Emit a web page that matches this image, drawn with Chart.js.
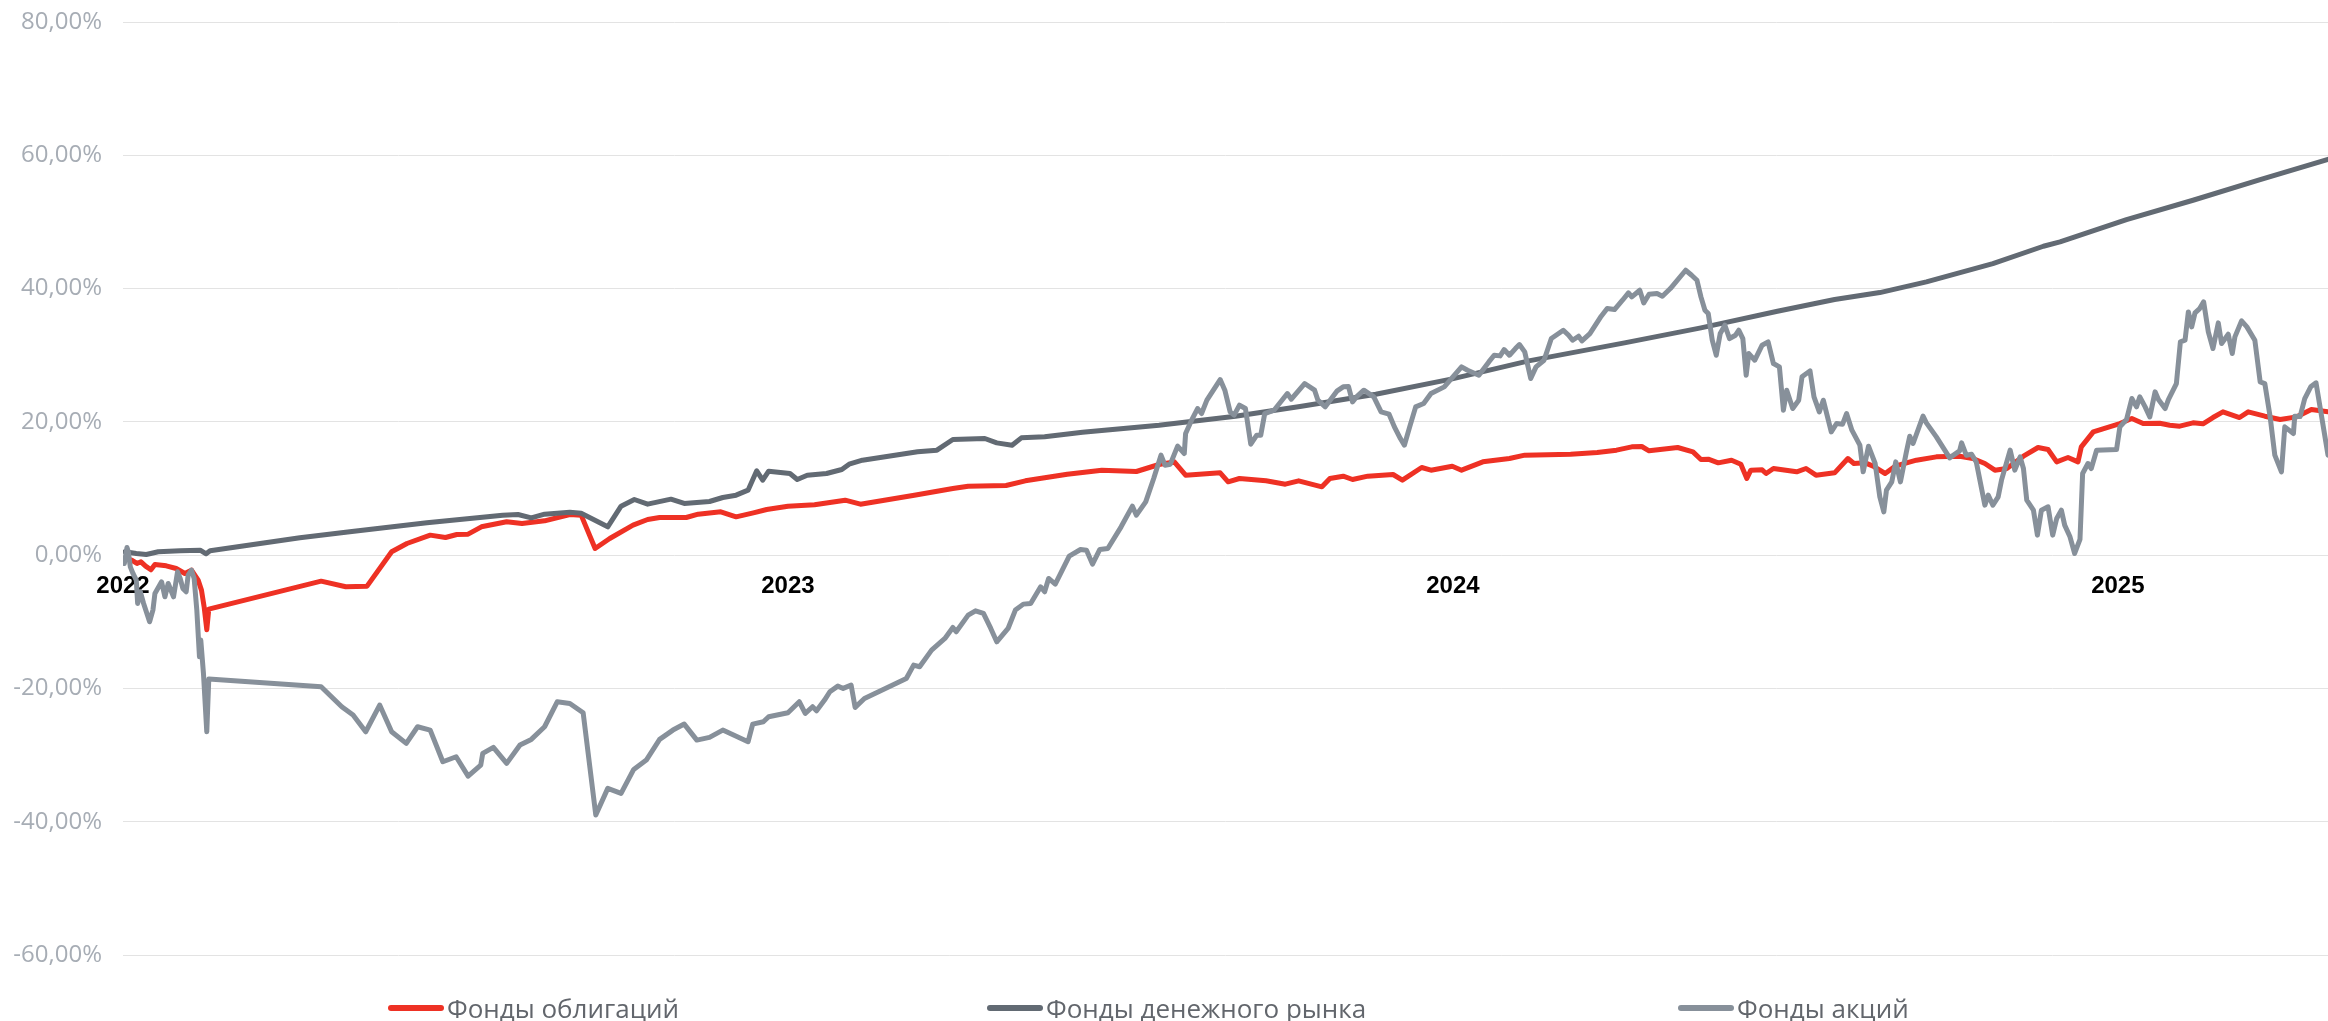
<!DOCTYPE html>
<html>
<head>
<meta charset="utf-8">
<script src="https://cdn.jsdelivr.net/npm/chart.js@4.4.1/dist/chart.umd.min.js"></script>
<style>
  html, body { margin: 0; padding: 0; background: #ffffff; }
  #wrap { position: relative; width: 2328px; height: 1021px; overflow: hidden; }
  #c { position: absolute; left: 0; top: 0; }
  .lg-item { position: absolute; top: 989px; height: 38px; display: flex; align-items: center; white-space: nowrap; }
  .lg-mark { width: 56px; height: 6px; border-radius: 3px; margin-right: 3px; }
  .lg-text { font-family: "Open Sans", sans-serif; font-size: 26px; color: #62666c; line-height: 38px; }
</style>
</head>
<body>
<div id="wrap">
  <canvas id="c" width="2328" height="1021"></canvas>
</div>
<script>
// ---- data (decimal years, percent) ----
const seriesNames = ['Фонды облигаций', 'Фонды денежного рынка', 'Фонды акций'];
const yearTicks = [2022, 2023, 2024, 2025];
const yTicks = [-60, -40, -20, 0, 20, 40, 60, 80];
const xStart = 2022;
const xEnd = 2025.316;

const bondT = [2022.004,2022.013,2022.021,2022.027,2022.034,2022.042,2022.048,2022.065,2022.080,2022.093,2022.103,2022.113,2022.118,2022.122,2022.126,2022.129,2022.298,2022.335,2022.367,2022.404,2022.427,2022.462,2022.485,2022.502,2022.519,2022.539,2022.577,2022.600,2022.634,2022.672,2022.689,2022.710,2022.732,2022.767,2022.789,2022.807,2022.847,2022.865,2022.899,2022.922,2022.948,2022.968,2023.000,2023.040,2023.086,2023.109,2023.190,2023.248,2023.271,2023.328,2023.357,2023.420,2023.472,2023.524,2023.558,2023.581,2023.598,2023.650,2023.662,2023.679,2023.719,2023.748,2023.768,2023.803,2023.815,2023.835,2023.849,2023.872,2023.910,2023.924,2023.953,2023.967,2023.999,2024.013,2024.045,2024.085,2024.108,2024.177,2024.217,2024.246,2024.269,2024.284,2024.295,2024.338,2024.361,2024.373,2024.384,2024.399,2024.419,2024.433,2024.442,2024.448,2024.465,2024.471,2024.482,2024.517,2024.531,2024.546,2024.574,2024.594,2024.603,2024.620,2024.632,2024.650,2024.665,2024.697,2024.727,2024.762,2024.782,2024.800,2024.815,2024.833,2024.858,2024.880,2024.895,2024.908,2024.925,2024.940,2024.945,2024.963,2025.003,2025.021,2025.038,2025.063,2025.078,2025.093,2025.113,2025.128,2025.143,2025.158,2025.183,2025.196,2025.221,2025.244,2025.269,2025.291,2025.316];
const bondV = [-0.5,-0.75,-1.25,-1.0,-1.65,-2.2,-1.4,-1.6,-2.0,-2.75,-2.25,-3.75,-5.25,-7.75,-11.2,-8.1,-3.9,-4.75,-4.65,0.5,1.75,3.0,2.65,3.1,3.15,4.25,5.0,4.75,5.15,6.1,6.0,1.0,2.5,4.5,5.35,5.65,5.65,6.15,6.5,5.75,6.35,6.85,7.35,7.55,8.25,7.65,9.0,10.0,10.35,10.45,11.15,12.15,12.75,12.55,13.6,14.0,12.0,12.35,11.0,11.5,11.15,10.65,11.15,10.25,11.5,11.85,11.35,11.85,12.1,11.25,13.15,12.75,13.35,12.75,14.0,14.5,15.0,15.15,15.4,15.75,16.25,16.3,15.65,16.15,15.5,14.35,14.4,13.85,14.25,13.65,11.5,12.75,12.8,12.25,13.0,12.5,13.0,12.0,12.35,14.5,13.75,13.85,13.35,12.25,13.35,14.25,14.75,14.85,14.5,13.75,12.75,13.0,14.85,16.15,15.85,14.0,14.65,14.0,16.25,18.5,19.75,20.5,19.75,19.8,19.5,19.35,19.85,19.7,20.65,21.5,20.65,21.5,20.85,20.35,20.75,21.85,21.5];

const moneyT = [2022.003,2022.020,2022.035,2022.053,2022.086,2022.116,2022.125,2022.131,2022.266,2022.341,2022.457,2022.571,2022.594,2022.614,2022.634,2022.672,2022.689,2022.729,2022.749,2022.769,2022.789,2022.824,2022.844,2022.882,2022.902,2022.922,2022.940,2022.953,2022.962,2022.971,2023.003,2023.014,2023.029,2023.058,2023.081,2023.092,2023.112,2023.195,2023.224,2023.248,2023.296,2023.314,2023.337,2023.351,2023.386,2023.443,2023.558,2023.673,2023.770,2023.884,2023.999,2024.114,2024.258,2024.373,2024.488,2024.574,2024.642,2024.712,2024.812,2024.888,2024.913,2025.013,2025.113,2025.214,2025.316];
const moneyV = [0.5,0.25,0.1,0.5,0.65,0.75,0.2,0.65,2.6,3.5,4.85,6.0,6.1,5.6,6.15,6.45,6.3,4.25,7.35,8.35,7.65,8.4,7.75,8.05,8.65,9.0,9.75,12.65,11.25,12.6,12.25,11.35,12.0,12.25,12.85,13.65,14.25,15.5,15.75,17.35,17.5,16.85,16.5,17.6,17.75,18.45,19.5,20.85,22.3,24.15,26.45,29.15,31.85,34.1,36.6,38.35,39.4,41.0,43.75,46.35,47.0,50.35,53.25,56.35,59.4];

const equityT = [2022.002,2022.006,2022.008,2022.011,2022.015,2022.020,2022.022,2022.026,2022.031,2022.040,2022.045,2022.048,2022.058,2022.063,2022.068,2022.076,2022.082,2022.086,2022.090,2022.095,2022.098,2022.103,2022.107,2022.111,2022.115,2022.117,2022.121,2022.126,2022.129,2022.298,2022.329,2022.346,2022.365,2022.386,2022.404,2022.426,2022.443,2022.462,2022.481,2022.501,2022.519,2022.538,2022.541,2022.557,2022.577,2022.597,2022.614,2022.634,2022.653,2022.672,2022.692,2022.711,2022.729,2022.749,2022.768,2022.787,2022.807,2022.827,2022.844,2022.863,2022.882,2022.902,2022.940,2022.947,2022.963,2022.971,2023.000,2023.017,2023.026,2023.037,2023.043,2023.055,2023.063,2023.075,2023.083,2023.095,2023.101,2023.115,2023.178,2023.189,2023.198,2023.216,2023.236,2023.248,2023.253,2023.271,2023.282,2023.294,2023.305,2023.314,2023.331,2023.342,2023.354,2023.365,2023.380,2023.386,2023.392,2023.402,2023.423,2023.440,2023.449,2023.458,2023.469,2023.481,2023.501,2023.518,2023.524,2023.538,2023.550,2023.561,2023.567,2023.575,2023.586,2023.596,2023.598,2023.607,2023.616,2023.622,2023.630,2023.650,2023.657,2023.665,2023.671,2023.679,2023.688,2023.696,2023.705,2023.711,2023.717,2023.731,2023.751,2023.757,2023.777,2023.792,2023.797,2023.808,2023.826,2023.835,2023.843,2023.849,2023.855,2023.866,2023.881,2023.892,2023.904,2023.912,2023.921,2023.927,2023.935,2023.944,2023.956,2023.967,2023.987,2024.013,2024.022,2024.039,2024.054,2024.062,2024.071,2024.077,2024.085,2024.094,2024.100,2024.108,2024.117,2024.125,2024.137,2024.148,2024.166,2024.174,2024.180,2024.189,2024.194,2024.206,2024.223,2024.232,2024.243,2024.255,2024.264,2024.269,2024.281,2024.287,2024.295,2024.307,2024.315,2024.327,2024.350,2024.359,2024.367,2024.373,2024.379,2024.384,2024.390,2024.396,2024.402,2024.409,2024.416,2024.425,2024.430,2024.436,2024.441,2024.445,2024.454,2024.465,2024.474,2024.482,2024.491,2024.497,2024.502,2024.511,2024.520,2024.525,2024.537,2024.543,2024.551,2024.557,2024.569,2024.577,2024.586,2024.592,2024.600,2024.612,2024.617,2024.625,2024.635,2024.642,2024.648,2024.652,2024.660,2024.666,2024.673,2024.682,2024.687,2024.692,2024.707,2024.712,2024.727,2024.747,2024.762,2024.765,2024.772,2024.780,2024.787,2024.800,2024.805,2024.812,2024.820,2024.825,2024.838,2024.845,2024.853,2024.858,2024.863,2024.873,2024.879,2024.885,2024.895,2024.902,2024.908,2024.915,2024.920,2024.928,2024.935,2024.943,2024.947,2024.955,2024.960,2024.968,2024.998,2025.003,2025.013,2025.021,2025.028,2025.033,2025.041,2025.048,2025.056,2025.061,2025.071,2025.076,2025.088,2025.094,2025.101,2025.106,2025.111,2025.116,2025.123,2025.129,2025.136,2025.143,2025.151,2025.156,2025.166,2025.172,2025.176,2025.186,2025.194,2025.206,2025.214,2025.221,2025.229,2025.236,2025.246,2025.251,2025.264,2025.266,2025.274,2025.281,2025.290,2025.298,2025.304,2025.316];
const equityV = [-1.25,1.15,0.5,-1.75,-2.75,-3.75,-7.25,-5.5,-7.25,-10.0,-8.25,-5.75,-4.0,-6.25,-4.25,-6.25,-2.5,-3.5,-5.0,-5.5,-3.0,-2.25,-3.5,-8.25,-15.25,-12.75,-17.75,-26.5,-18.6,-19.75,-22.75,-24.0,-26.5,-22.5,-26.5,-28.25,-25.75,-26.25,-31.0,-30.25,-33.15,-31.5,-29.75,-28.85,-31.25,-28.5,-27.65,-25.75,-22.0,-22.25,-23.65,-39.0,-35.0,-35.75,-32.15,-30.75,-27.65,-26.25,-25.35,-27.75,-27.35,-26.25,-28.0,-25.35,-25.0,-24.25,-23.65,-22.0,-23.75,-22.75,-23.35,-21.75,-20.5,-19.65,-20.0,-19.5,-22.85,-21.5,-18.5,-16.5,-16.75,-14.25,-12.5,-10.85,-11.5,-9.0,-8.35,-8.75,-11.0,-13.0,-11.0,-8.25,-7.35,-7.25,-4.75,-5.5,-3.5,-4.35,-0.15,0.85,0.75,-1.35,0.85,1.0,4.25,7.35,6.0,8.0,11.5,15.0,13.5,13.65,16.35,15.25,18.25,20.25,22.0,21.25,23.25,26.35,24.75,21.5,21.0,22.5,22.0,16.65,18.0,18.0,21.25,21.75,24.25,23.4,25.75,24.75,23.25,22.25,24.65,25.25,25.3,23.0,23.75,24.75,23.75,21.5,21.15,19.25,17.5,16.5,19.25,22.25,22.75,24.25,25.25,28.25,27.75,27.0,29.0,30.0,29.9,30.85,30.0,31.0,31.6,30.5,26.5,28.25,29.25,32.5,33.75,33.0,32.25,32.85,32.15,33.25,35.85,37.0,36.85,38.25,39.35,38.75,39.75,37.85,39.15,39.25,38.85,40.0,42.75,42.0,41.25,38.75,36.75,36.25,32.25,30.0,33.25,34.5,32.5,33.0,33.75,32.5,27.0,30.25,29.25,31.5,32.0,28.75,28.25,21.75,24.75,22.0,23.25,26.75,27.65,23.75,21.5,23.25,18.5,19.75,19.65,21.25,18.75,16.5,12.5,16.35,13.75,8.75,6.5,9.75,11.0,14.0,11.0,15.5,17.85,16.75,20.85,19.85,17.75,14.6,15.65,16.85,15.0,15.15,14.0,7.5,9.0,7.5,8.75,11.25,15.75,12.75,14.75,13.0,8.25,6.75,3.0,6.75,7.25,3.0,5.5,6.75,4.5,2.75,0.25,2.35,12.25,13.75,13.0,15.75,15.85,19.25,20.35,23.5,22.25,23.75,22.25,20.75,24.5,23.35,22.0,23.35,25.75,32.0,32.25,36.5,34.25,36.35,37.0,38.0,33.5,31.0,34.85,31.75,33.15,30.25,32.75,35.15,34.25,32.25,26.0,25.75,20.75,15.0,12.5,19.25,18.25,20.85,20.8,23.5,25.25,25.85,22.25,15.0];

// ---- styles ----
const colors = ['#ee3124', '#626a73', '#87909a'];

function pts(t, v) { return t.map((x, i) => ({ x: x, y: v[i] })); }

const datasets = [
  { label: seriesNames[0], data: pts(bondT, bondV), borderColor: colors[0], backgroundColor: colors[0], order: 2 },
  { label: seriesNames[1], data: pts(moneyT, moneyV), borderColor: colors[1], backgroundColor: colors[1], order: 1 },
  { label: seriesNames[2], data: pts(equityT, equityV), borderColor: colors[2], backgroundColor: colors[2], order: 0 }
].map(d => Object.assign(d, {
  borderWidth: 5, pointRadius: 0, pointHoverRadius: 0, tension: 0,
  borderJoinStyle: 'round', borderCapStyle: 'round', fill: false
}));

const chart = new Chart(document.getElementById('c'), {
  type: 'line',
  data: { datasets },
  options: {
    responsive: false,
    animation: false,
    devicePixelRatio: 1,
    parsing: false,
    normalized: true,
    layout: { padding: { top: 22, right: 0, bottom: 66, left: 0 } },
    plugins: { legend: { display: false }, tooltip: { enabled: false } },
    scales: {
      y: {
        type: 'linear', position: 'left', min: -60, max: 80,
        afterBuildTicks: s => { s.ticks = yTicks.map(v => ({ value: v })); },
        afterFit: s => { s.width = 123; s.paddingTop = 0; s.paddingBottom = 0; },
        border: { display: false },
        grid: { color: '#e3e3e3', lineWidth: 1, drawTicks: false },
        ticks: {
          padding: 21,
          color: '#a7adb5',
          font: { family: '"Open Sans", sans-serif', size: 24 },
          callback: v => v.toFixed(2).replace('.', ',') + '%'
        }
      },
      x: {
        type: 'linear', position: { y: 0 }, min: xStart, max: xEnd,
        afterBuildTicks: s => { s.ticks = yearTicks.map(v => ({ value: v })); },
        border: { display: false },
        grid: { display: false, drawTicks: false },
        ticks: {
          padding: 17,
          color: '#000000',
          maxRotation: 0,
          autoSkip: false,
          font: { family: '"Liberation Sans", Arial, sans-serif', size: 24, weight: 'bold' },
          callback: v => String(v)
        }
      }
    }
  }
});

// ---- HTML legend (dataset order) ----
const legendLeft = [388, 987, 1678];
const wrap = document.getElementById('wrap');
chart.data.datasets.forEach((d, i) => {
  const item = document.createElement('div');
  item.className = 'lg-item';
  item.style.left = legendLeft[i] + 'px';
  const mark = document.createElement('span');
  mark.className = 'lg-mark';
  mark.style.background = d.borderColor;
  const txt = document.createElement('span');
  txt.className = 'lg-text';
  txt.textContent = d.label;
  item.appendChild(mark);
  item.appendChild(txt);
  wrap.appendChild(item);
});
</script>
</body>
</html>
